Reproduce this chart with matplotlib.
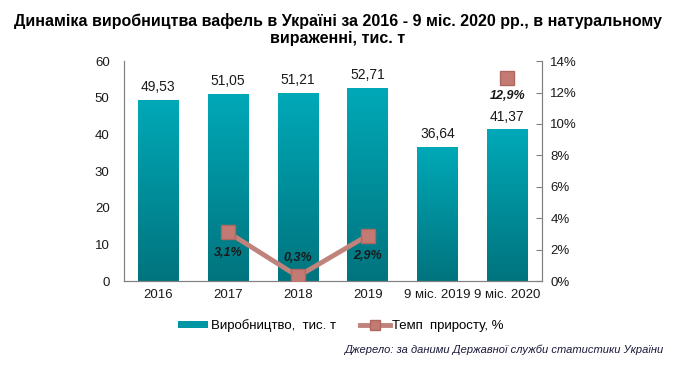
import numpy as np
import matplotlib.pyplot as plt
from matplotlib.colors import LinearSegmentedColormap
from matplotlib.lines import Line2D
from matplotlib.patches import Patch

plt.rcParams['font.family'] = ['Liberation Sans', 'DejaVu Sans']

categories = ['2016', '2017', '2018', '2019', '9 міс. 2019', '9 міс. 2020']
production = [49.53, 51.05, 51.21, 52.71, 36.64, 41.37]
prod_labels = ['49,53', '51,05', '51,21', '52,71', '36,64', '41,37']
growth = [np.nan, 3.1, 0.3, 2.9, np.nan, 12.9]
growth_labels = ['', '3,1%', '0,3%', '2,9%', '', '12,9%']

fig = plt.figure(figsize=(6.75, 3.66), dpi=100)
ax1 = fig.add_axes([0.183, 0.232, 0.620, 0.601])
ax2 = ax1.twinx()

x = np.arange(len(categories))
bars = ax1.bar(x, production, width=0.58, color='#0096a3', zorder=2)

# vertical gradient inside each bar
cmap = LinearSegmentedColormap.from_list('teal', ['#00747e', '#00a9b8'])
grad = np.linspace(0, 1, 256).reshape(-1, 1)
for b in bars:
    x0, w, h = b.get_x(), b.get_width(), b.get_height()
    im = ax1.imshow(grad, cmap=cmap, origin='lower', aspect='auto',
                    extent=[x0, x0 + w, 0, h], zorder=2)
    im.set_clip_path(b)

for xi, v, lab in zip(x, production, prod_labels):
    ax1.text(xi, v + 1.6, lab, ha='center', va='bottom', fontsize=10, color='#1a1a1a')

ax1.set_xlim(-0.5, len(categories) - 0.5)
ax1.set_ylim(0, 60)
ax1.set_yticks(range(0, 61, 10))
ax1.set_xticks(x)
ax1.set_xticklabels(categories)
ax1.tick_params(axis='both', length=0, labelsize=9.5, colors='#1a1a1a', pad=6)
ax1.tick_params(axis='y', pad=10)

ax2.plot(x, growth, color='#c0837c', linewidth=3.5, marker='s', markersize=10,
         markerfacecolor='#c27a72', markeredgecolor='#b0675f', zorder=4)
ax2.set_ylim(0, 14)
ax2.set_yticks(range(0, 15, 2))
ax2.set_yticklabels([f'{t}%' for t in range(0, 15, 2)])
ax2.tick_params(axis='y', direction='in', length=4, color='#808080', labelsize=9.5,
                labelcolor='#1a1a1a', pad=6)

offsets = [0, -1.3, 1.2, -1.3, 0, -1.1]
for xi, v, lab, off in zip(x, growth, growth_labels, offsets):
    if lab:
        ax2.text(xi, v + off, lab, ha='center', va='center', fontsize=9,
                 fontweight='bold', fontstyle='italic', color='#1a1a1a', zorder=5)

for ax in (ax1, ax2):
    ax.spines['top'].set_visible(False)
    for s in ('left', 'right', 'bottom'):
        ax.spines[s].set_color('#808080')

fig.text(0.5, 0.965, 'Динаміка виробництва вафель в Україні за 2016 - 9 міс. 2020 рр., в натуральному\nвираженні, тис. т',
         ha='center', va='top', fontsize=11.5, fontweight='bold', linespacing=1.2)

handles = [Patch(facecolor='#0096a3', edgecolor='none'),
           Line2D([0], [0], color='#c0837c', linewidth=3.5, marker='s',
                  markersize=7, markerfacecolor='#c27a72', markeredgecolor='#b0675f')]
fig.legend(handles, ['Виробництво,  тис. т', 'Темп  приросту, %'], loc='center',
           bbox_to_anchor=(0.505, 0.11), ncol=2, frameon=False, fontsize=9.5,
           handlelength=2.3, handleheight=0.5, handletextpad=0.2, columnspacing=1.8)

fig.text(0.983, 0.043, 'Джерело: за даними Державної служби статистики України', ha='right',
         va='center', fontsize=8, fontstyle='italic', color='#1a1a3a')

fig.savefig('out.png', dpi=100)
